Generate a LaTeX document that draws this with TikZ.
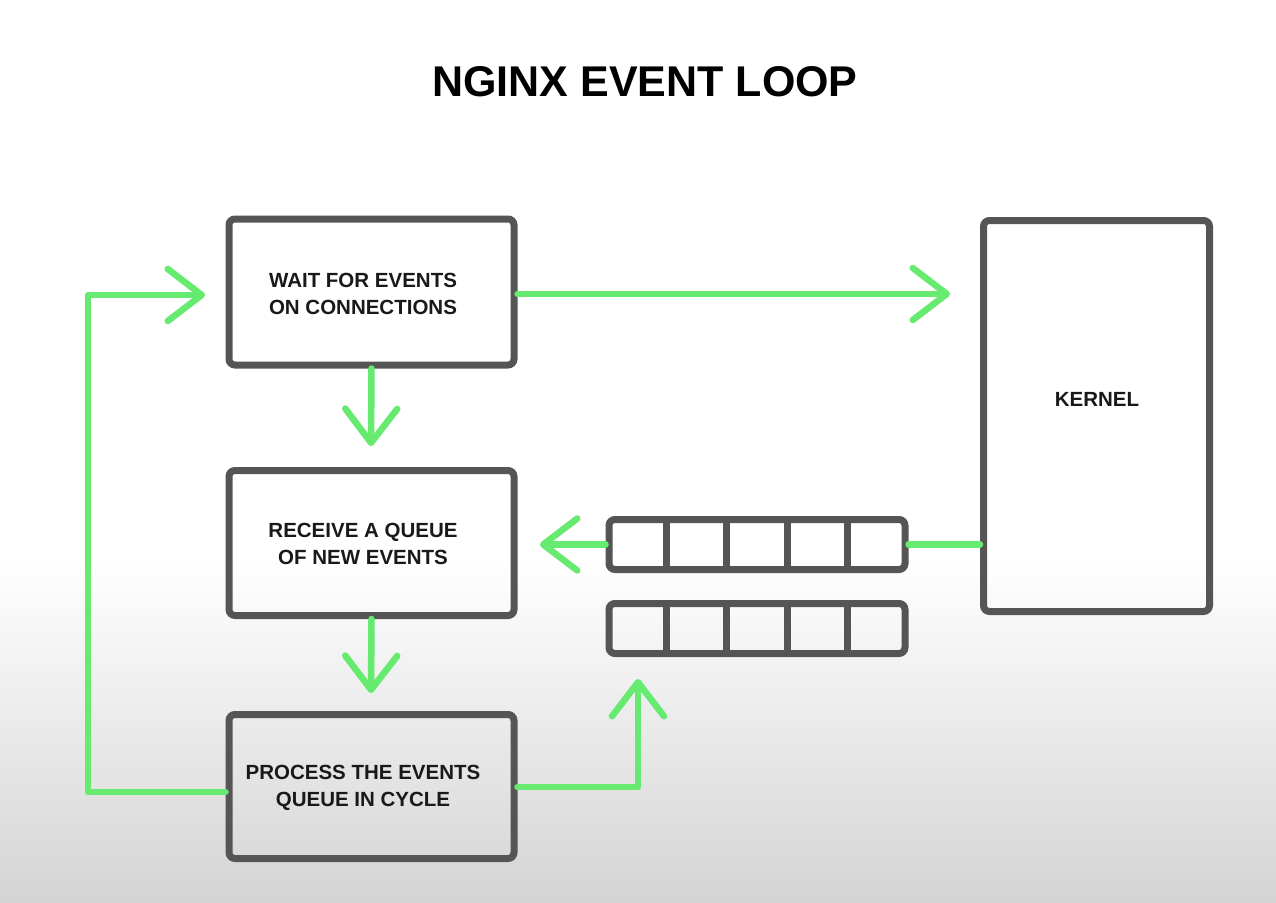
\documentclass[tikz,border=0pt]{standalone}
\usepackage{fontspec}
\setmainfont{Liberation Sans}
\usetikzlibrary{arrows.meta,calc}
\definecolor{grn}{RGB}{102,234,112}
\definecolor{bord}{RGB}{85,85,85}
\definecolor{bgbot}{RGB}{212,212,212}
\tikzset{
  box/.style={draw=bord, line width=7pt, rounded corners=6pt, inner sep=0pt},
  qbox/.style={draw=bord, line width=7pt, rounded corners=6pt, inner sep=0pt,
    minimum width=296pt, minimum height=50pt},
  txt/.style={font=\fontsize{20.5}{27}\selectfont\bfseries, align=center, text=black!90, inner sep=0pt},
  gline/.style={draw=grn, line width=6.5pt, line cap=round, line join=round},
  arr/.style={gline, -{Straight Barb[length=34pt, width=52pt, round]}},
}
\begin{document}
\begin{tikzpicture}[x=1pt,y=-1pt]
\useasboundingbox (0,0) rectangle (1276,902);
\fill[white] (0,0) rectangle (1276,902);
\shade[top color=white, bottom color=bgbot] (0,560) rectangle (1276,902);

\node[font=\fontsize{43}{50}\selectfont\bfseries, inner sep=0pt] (title) at (645,82) {NGINX EVENT LOOP};

\node[box, minimum width=285pt, minimum height=146pt] (wait) at (371.5,292) {};
\node[box, minimum width=285pt, minimum height=145pt] (recv) at (371.5,543) {};
\node[box, minimum width=285pt, minimum height=144pt] (proc) at (371.5,786.5) {};
\node[box, minimum width=226pt, minimum height=391pt] (kernel) at (1096.5,416) {};

\node[txt] (twait) at (363,293.5) {WAIT FOR EVENTS\\ON CONNECTIONS};
\node[txt] (trecv) at (363,544) {RECEIVE A QUEUE\\OF NEW EVENTS};
\node[txt] (tproc) at (363,788) {PROCESS THE EVENTS\\QUEUE IN CYCLE};
\node[txt] (tkern) at (1097,399) {KERNEL};

\node[qbox] (q1) at (757,544.5) {};
\node[qbox] (q2) at (757,628.5) {};
\foreach \q in {q1,q2}{
  \foreach \k in {1,2,3,4}{
    \draw[bord, line width=7pt] ($(\q.north west)!\k/5!(\q.north east)$) -- ($(\q.south west)!\k/5!(\q.south east)$);
  }
}

% connectors
\coordinate (kin) at (950,294);
\draw[arr] (wait.east |- kin) -- (kin);
\coordinate (wdown) at (371,446);
\draw[arr] (wait.south) -- (wdown);
\coordinate (rdown) at (371,693);
\draw[arr] (recv.south) -- (rdown);
\draw[gline] (kernel.west |- q1.east) -- (q1.east);
\coordinate (qout) at (540,544.5);
\draw[arr] (q1.west) -- (qout);
\coordinate (pr) at (638,787);
\coordinate (qin) at (638,679);
\draw[arr] (proc.east |- pr) -- (pr) -- (qin);
\coordinate (pl) at (88,792);
\coordinate (wl) at (88,295);
\coordinate (win) at (205,295);
\draw[arr] (proc.west |- pl) -- (pl) -- (wl) -- (win);
\end{tikzpicture}
\end{document}
